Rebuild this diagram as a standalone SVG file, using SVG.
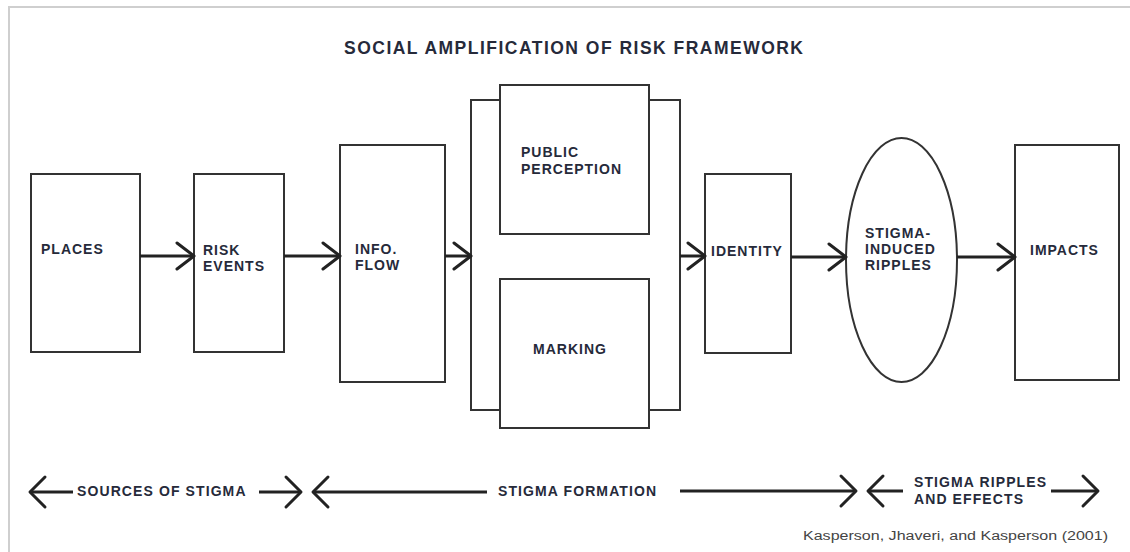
<svg xmlns="http://www.w3.org/2000/svg" width="1130" height="552" viewBox="0 0 1130 552">
  <style>
    .box { fill: #fff; stroke: #333; stroke-width: 2; }
    .frame { fill: none; stroke: #cfcfcf; stroke-width: 2; }
    .conn { fill: none; stroke: #222; stroke-width: 3; }
    .lbl { font-family: "Liberation Sans", Arial, sans-serif; font-weight: bold; font-size: 14px; letter-spacing: 1px; fill: #262a3a; }
    .title { font-family: "Liberation Sans", Arial, sans-serif; font-weight: bold; font-size: 17.5px; fill: #262a3a; }
    .band { font-family: "Liberation Sans", Arial, sans-serif; font-weight: bold; font-size: 14px; letter-spacing: 1.1px; fill: #262a3a; }
    .cite { font-family: "Liberation Sans", Arial, sans-serif; font-size: 12.5px; fill: #444; }
  </style>
  <defs>
    <marker id="chev" markerUnits="userSpaceOnUse" markerWidth="24" markerHeight="32" refX="19" refY="16" orient="auto-start-reverse" overflow="visible">
      <path d="M2,3 L19,16 L2,29" fill="none" stroke="#222" stroke-width="3" stroke-linejoin="round" stroke-linecap="round"/>
    </marker>
    <marker id="chevS" markerUnits="userSpaceOnUse" markerWidth="24" markerHeight="34" refX="17" refY="17" orient="auto-start-reverse" overflow="visible">
      <path d="M2,2 L17,17 L2,32" fill="none" stroke="#222" stroke-width="3" stroke-linejoin="round" stroke-linecap="round"/>
    </marker>
  </defs>

  <rect width="1130" height="552" fill="#fff"/>
  <!-- page frame -->
  <path class="frame" d="M9,552 V7 H1130"/>

  <text class="title" x="344" y="54" textLength="459" lengthAdjust="spacing">SOCIAL AMPLIFICATION OF RISK FRAMEWORK</text>

  <g id="places">
    <rect class="box" x="31" y="174" width="109" height="178"/>
    <text class="lbl" x="41" y="254">PLACES</text>
  </g>

  <g id="risk-events">
    <rect class="box" x="194" y="174" width="90" height="178"/>
    <text class="lbl" x="203" y="255">RISK</text>
    <text class="lbl" x="203" y="271">EVENTS</text>
  </g>

  <g id="info-flow">
    <rect class="box" x="340" y="145" width="105" height="237"/>
    <text class="lbl" x="355" y="254">INFO.</text>
    <text class="lbl" x="355" y="270">FLOW</text>
  </g>

  <!-- stigma formation block: bracket frame with two inner boxes -->
  <g id="formation">
    <rect class="box" x="471" y="100" width="209" height="310"/>
  </g>

  <g id="public-perception">
    <rect class="box" x="500" y="85" width="149" height="149"/>
    <text class="lbl" x="521" y="157">PUBLIC</text>
    <text class="lbl" x="521" y="174">PERCEPTION</text>
  </g>

  <g id="marking">
    <rect class="box" x="500" y="279" width="149" height="149"/>
    <text class="lbl" x="533" y="354">MARKING</text>
  </g>

  <g id="identity">
    <rect class="box" x="705" y="174" width="86" height="179"/>
    <text class="lbl" x="711" y="256">IDENTITY</text>
  </g>

  <g id="ripples">
    <ellipse class="box" cx="901.5" cy="260" rx="55.5" ry="122"/>
    <text class="lbl" x="865" y="238">STIGMA-</text>
    <text class="lbl" x="865" y="254">INDUCED</text>
    <text class="lbl" x="865" y="270">RIPPLES</text>
  </g>

  <g id="impacts">
    <rect class="box" x="1015" y="145" width="104" height="235"/>
    <text class="lbl" x="1030" y="255">IMPACTS</text>
  </g>

  <g id="connectors">
    <line class="conn" x1="140" y1="256" x2="194" y2="256" marker-end="url(#chev)"/>
    <line class="conn" x1="284" y1="256" x2="340" y2="256" marker-end="url(#chev)"/>
    <line class="conn" x1="445" y1="256" x2="471" y2="256" marker-end="url(#chev)"/>
    <line class="conn" x1="680" y1="256" x2="705" y2="256" marker-end="url(#chev)"/>
    <line class="conn" x1="791" y1="257" x2="846" y2="257" marker-end="url(#chev)"/>
    <line class="conn" x1="957" y1="257" x2="1015" y2="257" marker-end="url(#chev)"/>

    <!-- phase span arrows -->
    <line class="conn" x1="30" y1="492" x2="73" y2="492" marker-start="url(#chevS)"/>
    <line class="conn" x1="259" y1="492" x2="301" y2="492" marker-end="url(#chevS)"/>
    <line class="conn" x1="313" y1="492" x2="487" y2="492" marker-start="url(#chevS)"/>
    <line class="conn" x1="680" y1="491" x2="856" y2="491" marker-end="url(#chevS)"/>
    <line class="conn" x1="868" y1="491" x2="903" y2="491" marker-start="url(#chevS)"/>
    <line class="conn" x1="1051" y1="491" x2="1098" y2="491" marker-end="url(#chevS)"/>
  </g>

  <g id="phase-labels">
    <text class="band" x="77" y="496">SOURCES OF STIGMA</text>
    <text class="band" x="498" y="496">STIGMA FORMATION</text>
    <text class="band" x="914" y="487">STIGMA RIPPLES</text>
    <text class="band" x="914" y="504">AND EFFECTS</text>
  </g>

  <text class="cite" x="803" y="540" textLength="305" lengthAdjust="spacingAndGlyphs">Kasperson, Jhaveri, and Kasperson (2001)</text>
</svg>
